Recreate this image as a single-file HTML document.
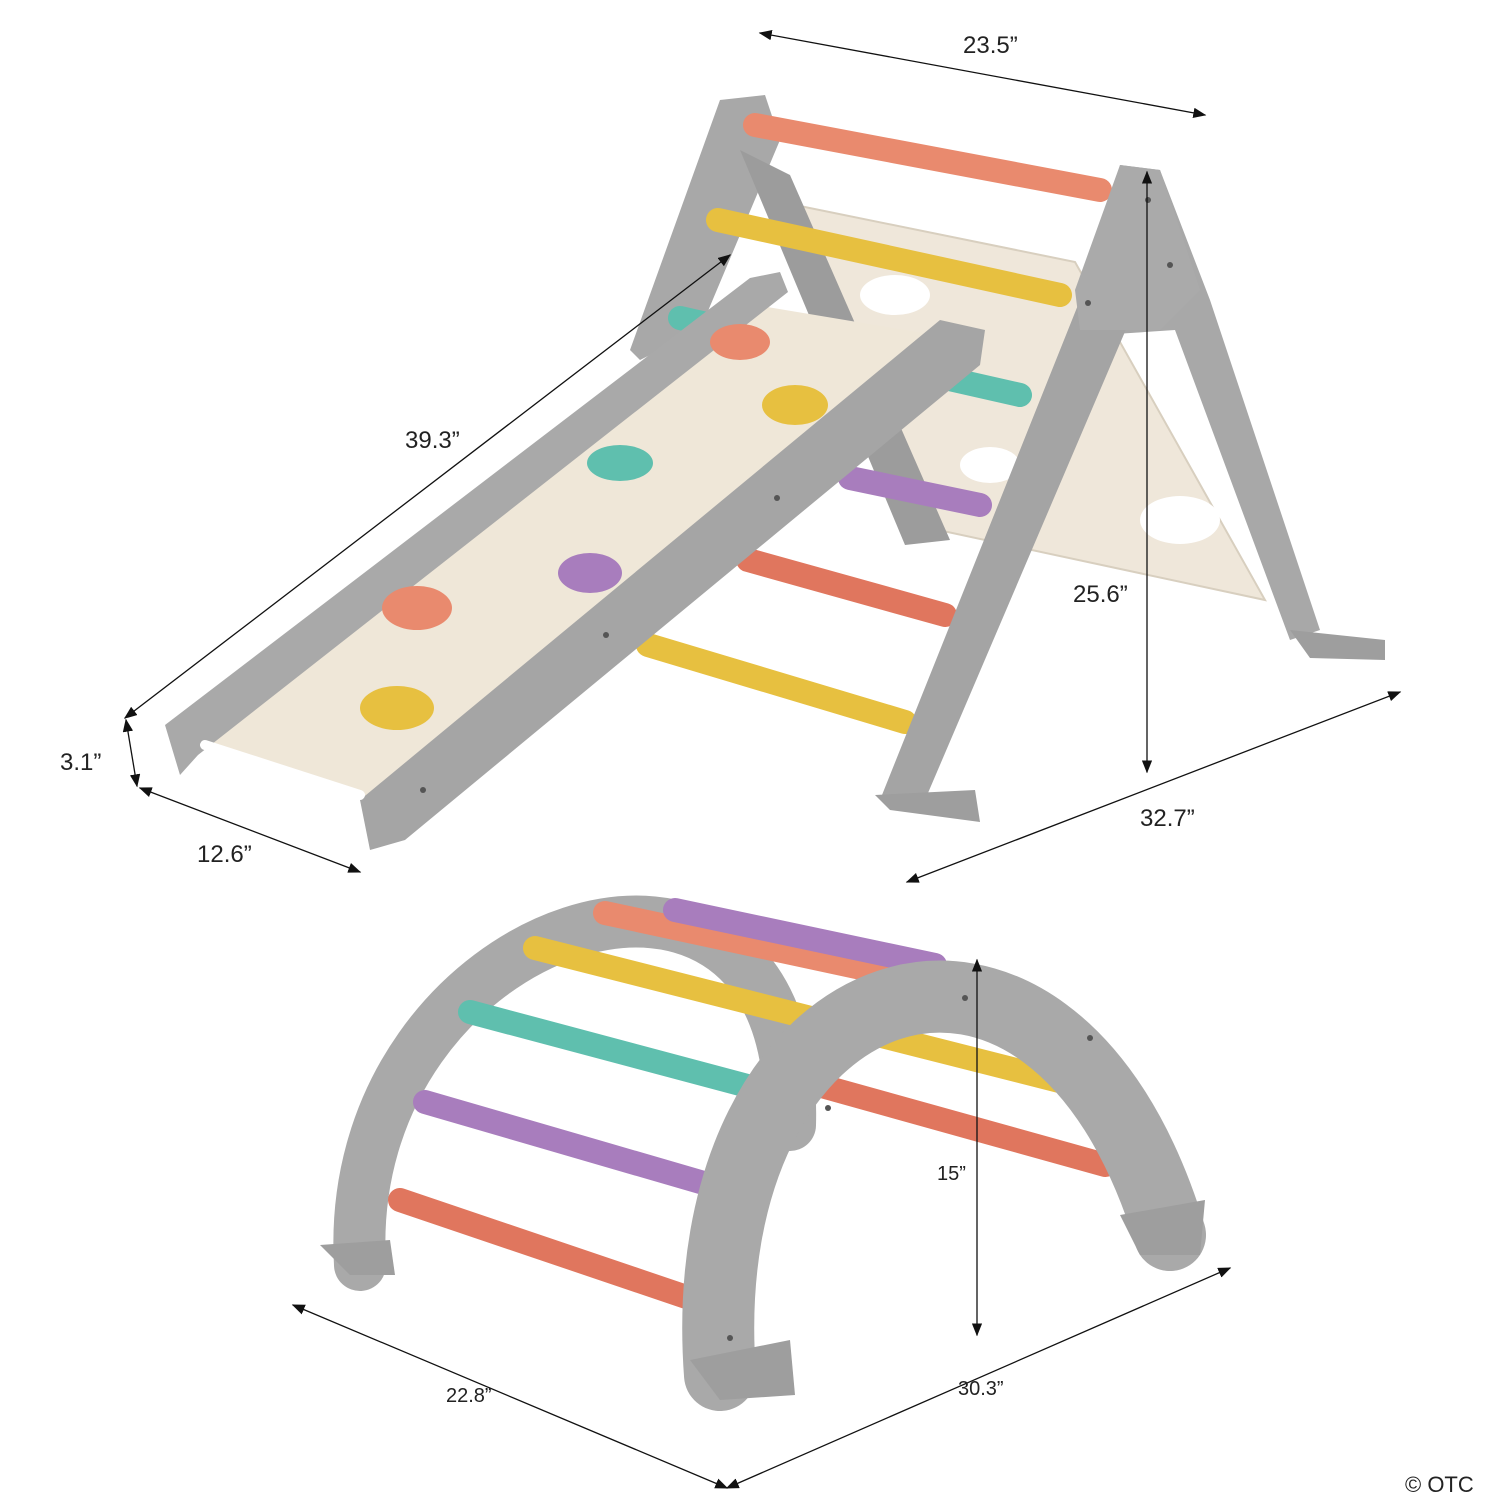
<!DOCTYPE html>
<html><head><meta charset="utf-8"><style>
html,body{margin:0;padding:0;background:#fff;width:1500px;height:1500px;overflow:hidden}
text{font-family:"Liberation Sans",sans-serif;fill:#222}
</style></head><body>
<svg width="1500" height="1500" viewBox="0 0 1500 1500" xmlns="http://www.w3.org/2000/svg">
<defs>
<marker id="a" markerWidth="10" markerHeight="8" refX="9" refY="4" orient="auto-start-reverse"><path d="M0,0 L10,4 L0,8 z" fill="#111"/></marker>
</defs>
<g stroke-linecap="round" fill="none">
<polygon points="795,205 1075,262 1265,600 915,525" fill="#efe7da" stroke="#d8cfbf" stroke-width="2"/>
<ellipse cx="895" cy="295" rx="35" ry="20" fill="#fff"/>
<ellipse cx="990" cy="465" rx="30" ry="18" fill="#fff"/>
<ellipse cx="1180" cy="520" rx="40" ry="24" fill="#fff"/>
<ellipse cx="1055" cy="430" rx="25" ry="15" fill="#fff"/>
<polygon points="720,100 765,95 780,140 700,330 640,360 630,350" fill="#a8a8a8"/>
<polygon points="740,150 790,175 950,540 905,545" fill="#9c9c9c"/>
<line x1="755" y1="125" x2="1100" y2="190" stroke="#e98a6e" stroke-width="24"/>
<line x1="718" y1="220" x2="1060" y2="295" stroke="#e7c040" stroke-width="24"/>
<line x1="680" y1="318" x2="1020" y2="395" stroke="#5fbfae" stroke-width="24"/>
<line x1="850" y1="478" x2="980" y2="505" stroke="#a87dbd" stroke-width="24"/>
<line x1="748" y1="560" x2="945" y2="615" stroke="#e0765e" stroke-width="24"/>
<line x1="648" y1="645" x2="905" y2="722" stroke="#e7c040" stroke-width="24"/>
<polygon points="1120,165 1160,170 1210,300 1320,630 1290,640 1175,330 1100,335" fill="#a8a8a8"/>
<polygon points="1080,300 1130,320 925,800 880,800" fill="#a4a4a4"/>
<polygon points="1120,165 1160,170 1200,290 1160,330 1080,330 1075,290" fill="#aaa"/>
<polygon points="1290,630 1385,640 1385,660 1310,658" fill="#9e9e9e"/>
<polygon points="875,795 975,790 980,822 890,810" fill="#9e9e9e"/>
<polygon points="755,305 935,335 365,800 205,740" fill="#efe7d8"/>
<polygon points="165,725 750,278 780,272 788,292 198,755 180,775" fill="#a9a9a9"/>
<polygon points="360,800 940,320 985,330 980,365 405,840 370,850" fill="#a5a5a5"/>
<line x1="205" y1="745" x2="360" y2="795" stroke="#fff" stroke-width="10"/>
<ellipse cx="740" cy="342" rx="30" ry="18" fill="#e98a6e"/>
<ellipse cx="795" cy="405" rx="33" ry="20" fill="#e7c040"/>
<ellipse cx="620" cy="463" rx="33" ry="18" fill="#5fbfae"/>
<ellipse cx="590" cy="573" rx="32" ry="20" fill="#a87dbd"/>
<ellipse cx="417" cy="608" rx="35" ry="22" fill="#e98a6e"/>
<ellipse cx="397" cy="708" rx="37" ry="22" fill="#e7c040"/>
<path d="M360,1265 C340,920 800,770 790,1125" stroke="#a9a9a9" stroke-width="52"/>
<line x1="605" y1="913" x2="940" y2="985" stroke="#e98a6e" stroke-width="24"/>
<line x1="675" y1="910" x2="935" y2="965" stroke="#a87dbd" stroke-width="24"/>
<line x1="535" y1="948" x2="1075" y2="1085" stroke="#e7c040" stroke-width="24"/>
<line x1="470" y1="1012" x2="800" y2="1100" stroke="#5fbfae" stroke-width="24"/>
<line x1="425" y1="1102" x2="745" y2="1195" stroke="#a87dbd" stroke-width="24"/>
<line x1="400" y1="1200" x2="710" y2="1305" stroke="#e0765e" stroke-width="24"/>
<line x1="800" y1="1080" x2="1105" y2="1165" stroke="#e0765e" stroke-width="24"/>
<path d="M720,1375 C690,970 1050,840 1170,1235" stroke="#a9a9a9" stroke-width="72"/>
<polygon points="320,1245 390,1240 395,1275 350,1275" fill="#9e9e9e"/>
<polygon points="690,1360 790,1340 795,1395 720,1400" fill="#9e9e9e"/>
<polygon points="1120,1215 1205,1200 1200,1255 1140,1255" fill="#9e9e9e"/>
<g fill="#555">
<circle cx="965" cy="998" r="3"/><circle cx="1090" cy="1038" r="3"/><circle cx="828" cy="1108" r="3"/><circle cx="730" cy="1338" r="3"/>
<circle cx="1148" cy="200" r="3"/><circle cx="1088" cy="303" r="3"/><circle cx="1170" cy="265" r="3"/>
<circle cx="777" cy="498" r="3"/><circle cx="606" cy="635" r="3"/><circle cx="423" cy="790" r="3"/>
</g>
<g stroke="#111" stroke-width="1.3" marker-start="url(#a)" marker-end="url(#a)">
<line x1="760" y1="33" x2="1205" y2="115"/>
<line x1="125" y1="718" x2="730" y2="255"/>
<line x1="126" y1="720" x2="137" y2="786"/>
<line x1="140" y1="788" x2="360" y2="872"/>
<line x1="1147" y1="172" x2="1147" y2="772"/>
<line x1="907" y1="882" x2="1400" y2="692"/>
<line x1="977" y1="960" x2="977" y2="1335"/>
<line x1="293" y1="1305" x2="727" y2="1488"/>
<line x1="727" y1="1488" x2="1230" y2="1268"/>
</g>
</g>
<g font-size="24">
<text x="963" y="53">23.5”</text>
<text x="405" y="448">39.3”</text>
<text x="60" y="770">3.1”</text>
<text x="197" y="862">12.6”</text>
<text x="1073" y="602">25.6”</text>
<text x="1140" y="826">32.7”</text>
</g>
<g font-size="20">
<text x="937" y="1180">15”</text>
<text x="446" y="1402">22.8”</text>
<text x="958" y="1395">30.3”</text>
<text x="1405" y="1492" font-size="22" fill="#444">© OTC</text>
</g>
</svg>
</body></html>
